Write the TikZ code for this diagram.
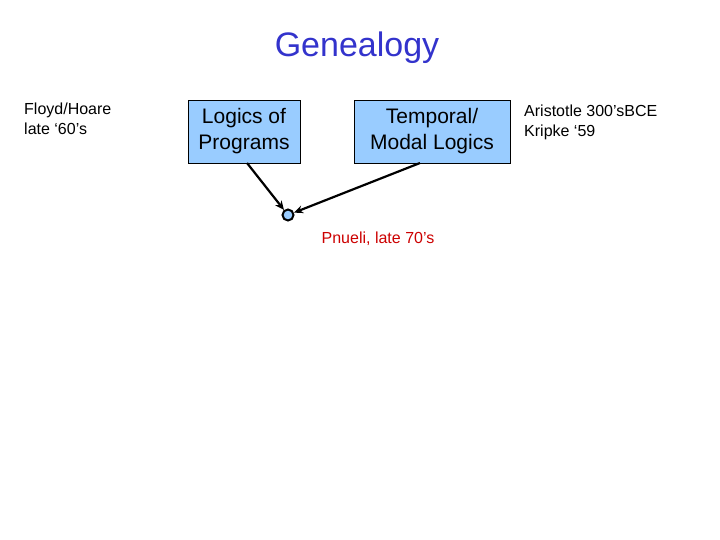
\documentclass[tikz,border=0pt]{standalone}
\usepackage{fontspec}
\setmainfont{Liberation Sans}
\usetikzlibrary{arrows.meta}
\definecolor{boxblue}{RGB}{153,204,255}
\definecolor{titleblue}{RGB}{51,51,204}
\definecolor{pred}{RGB}{204,0,0}
\begin{document}
\begin{tikzpicture}[x=1pt,y=-1pt,
  lbox/.style={draw=black,fill=boxblue,line width=0.8pt,inner sep=0pt,align=center,font=\fontsize{21}{26}\selectfont},
  side/.style={align=left,font=\fontsize{16}{20}\selectfont,anchor=north west,inner sep=0pt},
  conn/.style={line width=2.2pt,-{Stealth[length=9pt,width=8pt]}}]
\useasboundingbox (0,0) rectangle (720,540);
\node[font=\fontsize{34}{40}\selectfont,text=titleblue] (title) at (357,48) {Genealogy};
\node[side] (floyd) at (24,103) {Floyd/Hoare\\late ‘60’s};
\node[lbox,minimum width=112pt,minimum height=63pt] (lp) at (244,131.5) {Logics of\\Programs};
\node[lbox,minimum width=156pt,minimum height=63pt] (tm) at (432,131.5) {Temporal/\\Modal Logics};
\node[side] (ari) at (524,105) {Aristotle 300’sBCE\\Kripke ‘59};
\node[circle,draw=black,fill=boxblue,line width=2pt,minimum size=11pt,inner sep=0pt] (pn) at (288,215) {};
\node[text=pred,font=\fontsize{16}{20}\selectfont] (pnl) at (378,239) {Pnueli, late 70’s};
\draw[conn] (247,163) -- (pn);
\draw[conn] (420,163) -- (pn);
\end{tikzpicture}
\end{document}
